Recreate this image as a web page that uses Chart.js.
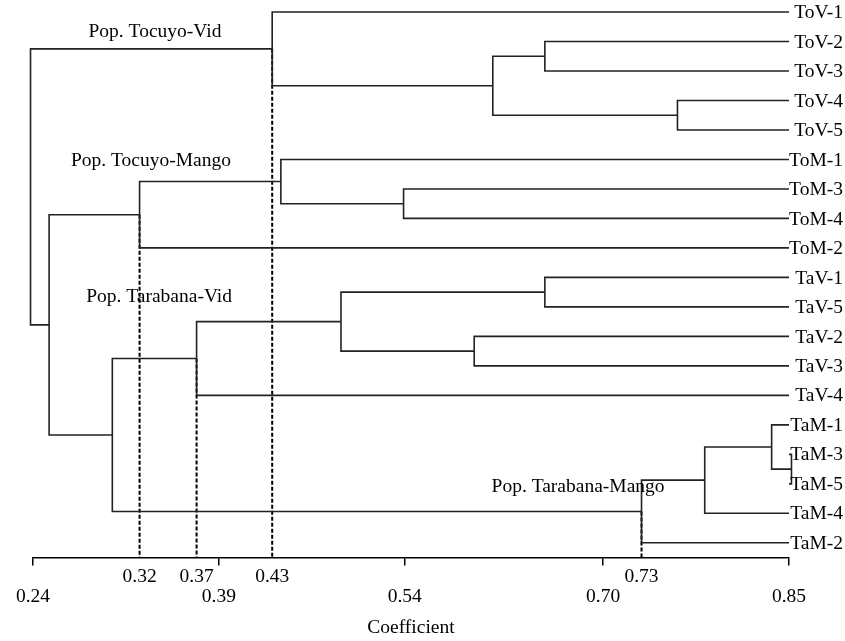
<!DOCTYPE html>
<html>
<head>
<meta charset="utf-8">
<script src="https://cdn.jsdelivr.net/npm/chart.js@4.4.1/dist/chart.umd.min.js"></script>
<style>
  html, body { margin: 0; padding: 0; background: #fff; }
  #wrap { width: 845px; height: 641px; }
</style>
</head>
<body>
<div id="wrap"><canvas id="c"></canvas></div>
<script>
// leaves, top to bottom
const leafNames = ['ToV-1', 'ToV-2', 'ToV-3', 'ToV-4', 'ToV-5',
  'ToM-1', 'ToM-3', 'ToM-4', 'ToM-2',
  'TaV-1', 'TaV-5', 'TaV-2', 'TaV-3', 'TaV-4',
  'TaM-1', 'TaM-3', 'TaM-5', 'TaM-4', 'TaM-2'];
const leafCoef = 0.85;

// linkage: index < 19 = leaf, 19 + k = merge k
const linkA = [15, 14, 20, 3, 21, 1, 9, 24, 11, 6, 25, 5, 0, 29, 30, 32, 33, 31];
const linkB = [16, 19, 17, 4, 18, 2, 10, 22, 12, 7, 27, 28, 26, 13, 8, 23, 34, 35];
const linkCoef = [0.852, 0.836, 0.782, 0.760, 0.731, 0.653, 0.653, 0.611, 0.596,
  0.539, 0.4885, 0.440, 0.433, 0.372, 0.326, 0.304, 0.253, 0.238];

// axis ticks
const mainTicks = [0.24, 0.39, 0.54, 0.70, 0.85];
const mainTickLabels = ['0.24', '0.39', '0.54', '0.70', '0.85'];
// cut levels (merge index) and their labels
const cutMerges = [33, 32, 31, 23];
const cutLabels = ['0.32', '0.37', '0.43', '0.73'];

const groupLabels = ['Pop. Tocuyo-Vid', 'Pop. Tocuyo-Mango', 'Pop. Tarabana-Vid', 'Pop. Tarabana-Mango'];

const FONT = '"Liberation Serif", "Times New Roman", serif';
const FS = 19.5;
const n = leafNames.length;

// node positions
const nodeX = [], nodeY = [];
leafNames.forEach((_, i) => { nodeX[i] = leafCoef; nodeY[i] = i; });
linkCoef.forEach((h, k) => {
  const a = linkA[k], b = linkB[k];
  nodeX[n + k] = h;
  nodeY[n + k] = (nodeY[a] + nodeY[b]) / 2;
});

const datasets = [];
linkCoef.forEach((h, k) => {
  const a = linkA[k], b = linkB[k];
  datasets.push({
    data: [
      { x: nodeX[a], y: nodeY[a] },
      { x: h, y: nodeY[a] },
      { x: h, y: nodeY[b] },
      { x: nodeX[b], y: nodeY[b] }
    ],
    showLine: true,
    borderColor: '#222',
    borderWidth: 1.6,
    pointRadius: 0,
    tension: 0,
    clip: false
  });
});

const yMax = 18.5;
const cutValues = cutMerges.map(m => nodeX[m]);
cutMerges.forEach(m => {
  datasets.push({
    data: [{ x: nodeX[m], y: nodeY[m] }, { x: nodeX[m], y: yMax }],
    showLine: true,
    borderColor: '#000',
    borderWidth: 2,
    borderDash: [4, 2],
    pointRadius: 0,
    clip: false
  });
});

const allTicks = mainTicks.concat(cutValues).sort((p, q) => p - q);

// text overlay: leaf names and group names
const labelPlugin = {
  id: 'labels',
  afterDatasetsDraw (chart) {
    const { ctx, scales, width } = chart;
    const x = scales.x, y = scales.y;
    ctx.save();
    ctx.fillStyle = '#000';
    ctx.font = FS + 'px ' + FONT;
    ctx.textBaseline = 'middle';
    // leaf names sit flush right
    ctx.textAlign = 'right';
    leafNames.forEach((name, i) => {
      ctx.fillText(name, width - 2, y.getPixelForValue(i) + 1);
    });
    // group names, placed in data units
    const groupPos = [[0.3384, 0.68], [0.3352, 5.05], [0.3417, 9.66], [0.6798, 16.1]];
    ctx.textAlign = 'center';
    groupLabels.forEach((t, i) => {
      ctx.fillText(t, x.getPixelForValue(groupPos[i][0]), y.getPixelForValue(groupPos[i][1]));
    });
    ctx.restore();
  }
};

new Chart(document.getElementById('c'), {
  type: 'scatter',
  data: { datasets },
  plugins: [labelPlugin],
  options: {
    responsive: true,
    maintainAspectRatio: false,
    animation: false,
    events: [],
    layout: { padding: { left: 33, right: 56, top: 12, bottom: 0 } },
    plugins: { legend: { display: false }, tooltip: { enabled: false } },
    scales: {
      x: {
        type: 'linear',
        min: 0.24,
        max: 0.85,
        afterBuildTicks (scale) {
          scale.ticks = allTicks.map(v => ({ value: v }));
        },
        ticks: {
          autoSkip: false,
          maxRotation: 0,
          padding: 1,
          color: '#000',
          font: { family: FONT, size: FS, lineHeight: 20.5 / FS },
          callback (value) {
            const ci = cutValues.indexOf(value);
            if (ci >= 0) return [cutLabels[ci], ''];
            const mi = mainTicks.indexOf(value);
            return ['', mi >= 0 ? mainTickLabels[mi] : ''];
          }
        },
        grid: {
          drawOnChartArea: false,
          drawTicks: true,
          tickLength: 8,
          color: '#000',
          lineWidth: ctx => (ctx.tick && cutValues.indexOf(ctx.tick.value) >= 0) ? 0 : 1.5
        },
        border: { display: true, color: '#000', width: 1.5 },
        title: {
          display: true,
          text: 'Coefficient',
          color: '#000',
          font: { family: FONT, size: FS, lineHeight: 1.1 },
          padding: { top: 9, bottom: 2 }
        }
      },
      y: {
        type: 'linear',
        reverse: true,
        min: 0,
        max: yMax,
        display: false
      }
    }
  }
});
</script>
</body>
</html>
